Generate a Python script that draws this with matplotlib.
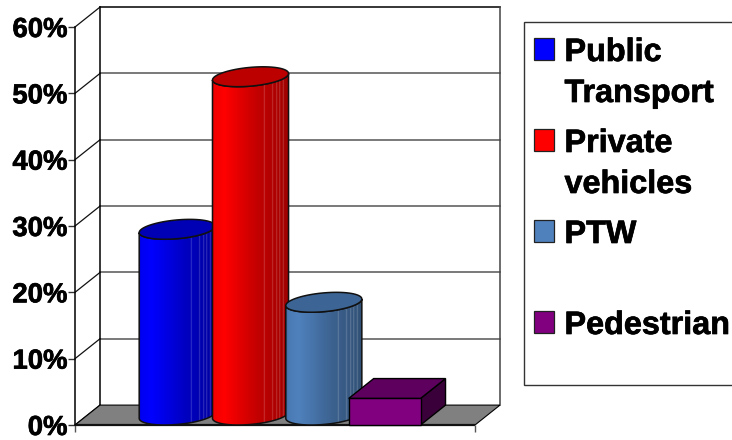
import numpy as np
import matplotlib
matplotlib.use("Agg")
import matplotlib.pyplot as plt
import matplotlib.patheffects as pe
from matplotlib.patches import PathPatch, Rectangle
from matplotlib.path import Path

plt.rcParams["font.family"] = ["Liberation Sans", "DejaVu Sans"]
plt.rcParams["font.weight"] = "bold"

# Data
categories = ["Public\nTransport", "Private\nvehicles", "PTW", "Pedestrian"]
shares = [28, 51, 17, 4]
y_ticks = [0, 10, 20, 30, 40, 50, 60]
y_labels = ["0%", "10%", "20%", "30%", "40%", "50%", "60%"]

# Colours
series_colors = ["#0000ff", "#ff0000", "#4f81bd", "#800080"]
top_colors = ["#0000b4", "#bc0000", "#3c6595", "#5e005e"]
box_side_color = "#3a003a"
floor_color = "#808080"

W, H = 732, 440
BAR_W = 0.98
DEPTH_X = 0.341   # depth offset along x, category units
DEPTH_Y = 3.0     # depth offset along y, percent
XLIM = (-1.224, 4.233)
HEAVY = [pe.withStroke(linewidth=0.5, foreground="black")]

fig = plt.figure(figsize=(W / 100, H / 100), dpi=100)
ax = fig.add_axes([75 / W, (H - 425) / H, 400 / W, 398 / H])
ax.set_xlim(*XLIM)
ax.set_ylim(0, 60)
ax.patch.set_visible(False)

for side in ["top", "right", "bottom"]:
    ax.spines[side].set_visible(False)
ax.spines["left"].set_linewidth(1.1)
ax.set_yticks(y_ticks)
ax.set_yticklabels(y_labels, fontsize=19.8, fontweight="bold", path_effects=HEAVY)
ax.set_xticks(XLIM)
ax.set_xticklabels(["", ""])
ax.tick_params(axis="y", length=5, width=1.0, pad=0.5, color="#333333")
ax.tick_params(axis="x", length=5, width=1.0, color="#555555")

x0, x1 = XLIM

# floor
ax.fill([x0, x1, x1 + DEPTH_X, x0 + DEPTH_X], [0, 0, DEPTH_Y, DEPTH_Y],
        color=floor_color, ec="black", lw=0.8, zorder=1, clip_on=False)
ax.plot([x0, x1], [0, 0], color="#111111", lw=1.6, zorder=1.5, clip_on=False, solid_capstyle="butt")

# back wall, side wall and gridlines
for t in y_ticks:
    top = t == y_ticks[-1]
    if t > 0:
        ax.plot([x0 + DEPTH_X, x1 + DEPTH_X], [t + DEPTH_Y, t + DEPTH_Y],
                color="black" if top else "#555555", lw=1.1, zorder=0.5, clip_on=False)
    ax.plot([x0, x0 + DEPTH_X], [t, t + DEPTH_Y], color="#111111", lw=0.9, zorder=0.5, clip_on=False)
ax.plot([x0 + DEPTH_X] * 2, [DEPTH_Y, 60 + DEPTH_Y], color="black", lw=1.1, zorder=0.5, clip_on=False)
ax.plot([x1 + DEPTH_X] * 2, [DEPTH_Y, 60 + DEPTH_Y], color="#444444", lw=1.1, zorder=0.5, clip_on=False)


def ring(cx, cy, t):
    # a circle lying flat in the oblique projection
    u, v = np.cos(t), np.sin(t)
    return cx + BAR_W / 2 * u + DEPTH_X / 2 * v, cy + DEPTH_Y / 2 * v


def shaded_strip(color):
    # horizontal shading of a cylinder side, with the banding of the faceted surface
    rgb = np.array(matplotlib.colors.to_rgb(color))
    pos = np.linspace(0, 1, 150)
    light = np.interp(pos, [0, 0.03, 0.16, 0.6, 1.0], [0.86, 0.95, 1.0, 0.76, 0.62])
    strip = light[:, None] * rgb
    for s in [0.68, 0.79, 0.84, 0.88, 0.93]:
        strip[np.abs(pos - s) < 0.006] = strip[np.abs(pos - s) < 0.006] * 0.8 + 0.2
    return strip[None, :, :]


def draw_cylinder(i, value, color, top_color, z):
    cx = i + DEPTH_X / 2
    # tangent points of the silhouette
    t_right = np.arctan2(DEPTH_X, BAR_W)
    t = np.linspace(t_right + np.pi, t_right + 2 * np.pi, 60)
    bx, by = ring(cx, DEPTH_Y / 2, t)
    tx, ty = ring(cx, value + DEPTH_Y / 2, t[::-1])
    body = Path(np.column_stack([np.r_[bx, tx, bx[0]], np.r_[by, ty, by[0]]]), closed=True)
    patch = PathPatch(body, fc="none", ec="#111111", lw=1.1, zorder=z + 0.2, clip_on=False)
    ax.add_patch(patch)
    im = ax.imshow(shaded_strip(color), extent=[bx.min(), bx.max(), 0, value + DEPTH_Y],
                   aspect="auto", zorder=z, interpolation="bilinear")
    im.set_clip_path(PathPatch(body, transform=ax.transData))
    t = np.linspace(0, 2 * np.pi, 90)
    ex, ey = ring(cx, value + DEPTH_Y / 2, t)
    ax.fill(ex, ey, fc=top_color, ec="#111111", lw=1.1, zorder=z + 0.3, clip_on=False)


def draw_box(i, value, color, top_color, z):
    l, r = i - BAR_W / 2, i + BAR_W / 2
    ax.fill([r, r + DEPTH_X, r + DEPTH_X, r], [0, DEPTH_Y, value + DEPTH_Y, value],
            fc=box_side_color, ec="black", lw=1.0, zorder=z, clip_on=False)
    ax.fill([l, r, r + DEPTH_X, l + DEPTH_X], [value, value, value + DEPTH_Y, value + DEPTH_Y],
            fc=top_color, ec="black", lw=1.0, zorder=z, clip_on=False)
    ax.fill([l, r, r, l], [0, 0, value, value], fc=color, ec="black", lw=1.0, zorder=z + 0.1, clip_on=False)


for i, value in enumerate(shares):
    if categories[i] == "Pedestrian":
        draw_box(i, value, series_colors[i], top_colors[i], 5 + i)
    else:
        draw_cylinder(i, value, series_colors[i], top_colors[i], 5 + i)

ax.set_xlim(*XLIM)
ax.set_ylim(0, 60)

# legend panel, laid out in pixels
leg = fig.add_axes([0, 0, 1, 1])
leg.set_xlim(0, W)
leg.set_ylim(H, 0)
leg.axis("off")
leg.patch.set_visible(False)
leg.plot([W, 524, 524, W], [22, 22, 385, 385], color="#333333", lw=1.0, solid_joinstyle="miter")

legend_tops = [38, 129, 220, 311]
for label, color, top in zip(categories, series_colors, legend_tops):
    leg.add_patch(Rectangle((533.5, top), 20.5, 22, fc=color, ec="#222222", lw=0.9))
    for n, line in enumerate(label.split("\n")):
        leg.text(564.5, top + 23 + 41 * n, line, fontsize=23.3, fontweight="bold", va="baseline", ha="left",
                 color="black", path_effects=HEAVY)

fig.savefig("out.png", dpi=100)
